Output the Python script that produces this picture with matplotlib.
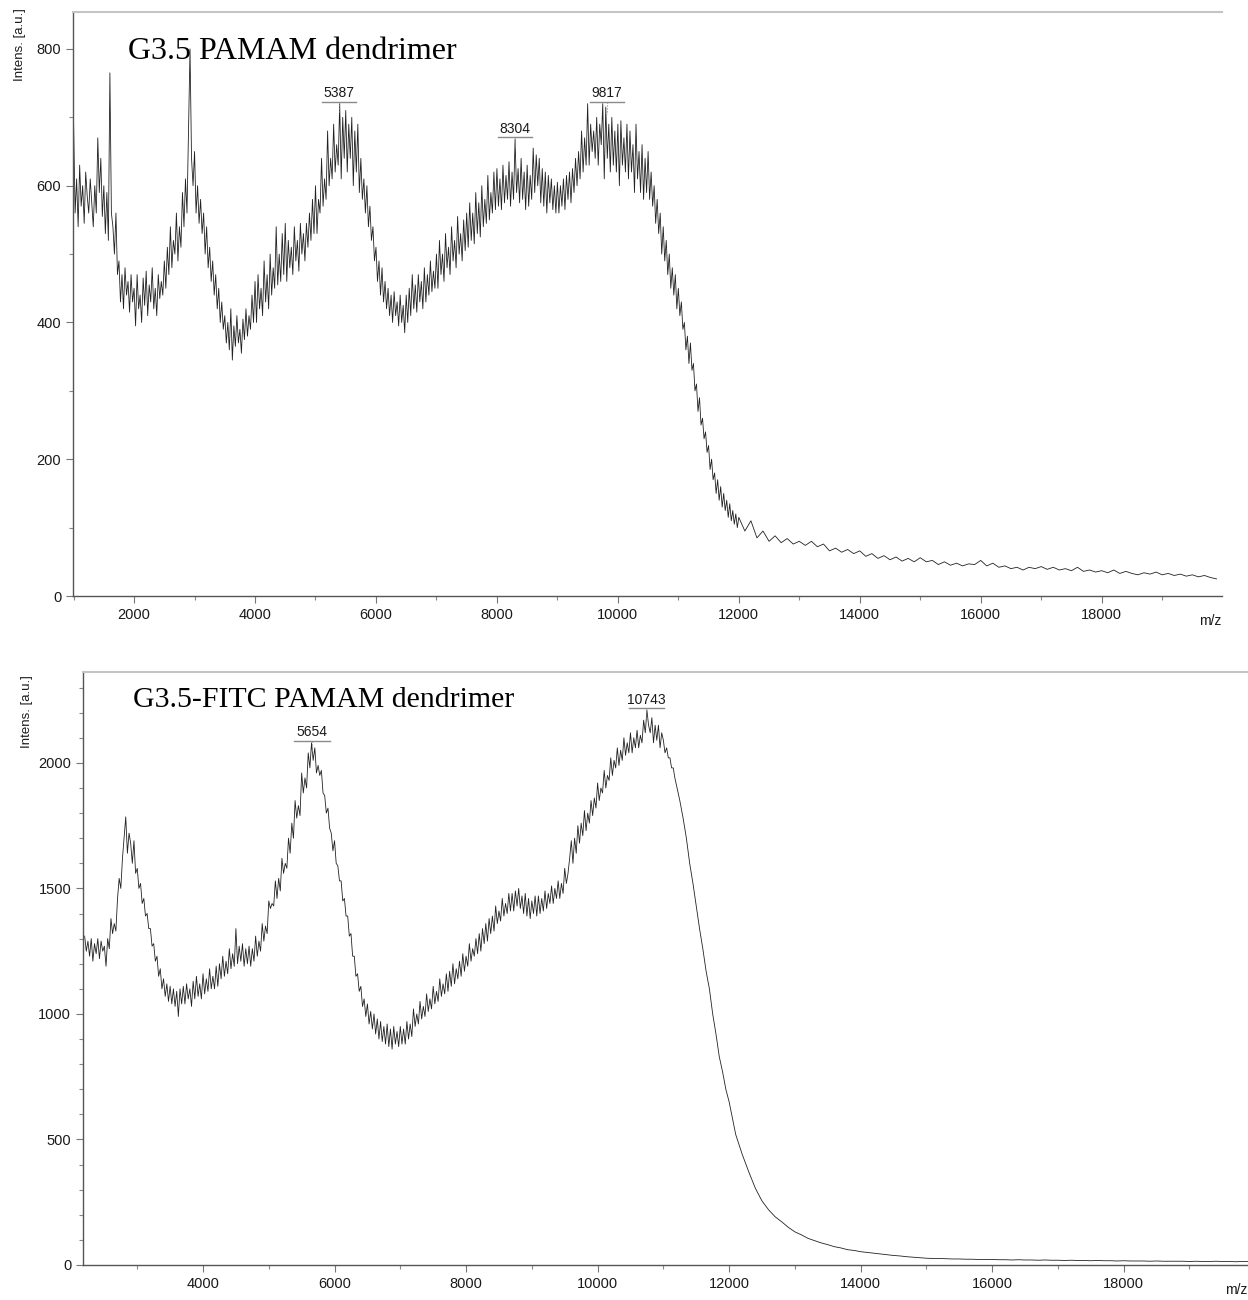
import matplotlib
matplotlib.use('Agg')
import matplotlib.pyplot as plt
from matplotlib.ticker import MultipleLocator

plt.rcParams['font.family'] = ['Liberation Sans', 'DejaVu Sans']

# ---- G3.5 PAMAM (top spectrum) ----
top_mz = list(range(1000, 12001, 25)) + list(range(12100, 19901, 100))
top_int = [
    690, 560, 610, 540, 630, 570, 600, 545, 620, 585, 560, 610, 575, 540, 600, 560, 670, 590, 640, 555,
    600, 530, 590, 520, 765, 560, 540, 500, 560, 470, 490, 430, 470, 420, 480, 440, 460, 415, 470, 430,
    450, 395, 470, 420, 440, 400, 465, 425, 475, 410, 455, 430, 480, 420, 450, 410, 470, 435, 460, 440,
    490, 450, 510, 470, 540, 480, 520, 500, 560, 490, 540, 510, 590, 540, 610, 560, 680, 800, 640, 600,
    650, 560, 600, 545, 580, 530, 560, 500, 540, 480, 510, 460, 490, 440, 470, 420, 450, 400, 430, 390,
    410, 370, 400, 360, 420, 345, 395, 365, 410, 370, 390, 355, 405, 375, 420, 380, 410, 390, 440, 400,
    460, 400, 470, 420, 450, 410, 490, 430, 470, 420, 500, 440, 480, 450, 540, 455, 500, 460, 530, 470,
    545, 460, 520, 480, 510, 470, 540, 490, 520, 475, 545, 500, 530, 490, 545, 510, 560, 520, 580, 530,
    600, 530, 580, 560, 640, 570, 610, 580, 680, 600, 640, 610, 690, 620, 660, 630, 720, 610, 700, 640,
    710, 620, 690, 640, 700, 600, 680, 620, 690, 590, 640, 580, 610, 560, 600, 540, 570, 520, 540, 490,
    510, 460, 490, 440, 480, 430, 460, 420, 450, 410, 440, 400, 445, 410, 430, 395, 440, 400, 425, 385,
    440, 400, 450, 410, 470, 420, 455, 415, 470, 430, 460, 420, 480, 430, 470, 440, 490, 445, 475, 450,
    500, 450, 520, 470, 500, 460, 530, 480, 510, 470, 540, 490, 520, 480, 555, 500, 530, 490, 550, 505,
    560, 510, 575, 520, 560, 515, 590, 530, 575, 525, 600, 540, 580, 545, 615, 550, 590, 560, 620, 565,
    625, 570, 610, 565, 630, 575, 615, 580, 635, 570, 620, 580, 668, 590, 625, 575, 640, 580, 620, 565,
    630, 570, 615, 580, 655, 590, 645, 600, 640, 575, 625, 570, 620, 560, 615, 575, 610, 565, 600, 560,
    605, 560, 600, 570, 610, 565, 615, 580, 620, 575, 625, 590, 640, 600, 650, 610, 680, 620, 670, 630,
    720, 630, 690, 650, 680, 640, 700, 630, 690, 660, 720, 610, 715, 640, 690, 620, 700, 630, 680, 620,
    690, 600, 695, 630, 670, 620, 690, 610, 680, 620, 660, 590, 690, 610, 650, 590, 660, 580, 640, 590,
    650, 580, 620, 570, 600, 545, 580, 530, 560, 500, 540, 490, 520, 470, 500, 450, 480, 440, 470, 420,
    450, 410, 430, 390, 400, 360, 380, 340, 370, 330, 340, 300, 310, 270, 290, 250, 260, 230, 240, 210,
    220, 185, 200, 170, 180, 150, 170, 140, 160, 130, 150, 125, 140, 115, 135, 110, 125, 105, 120, 100,
    115,
    95, 110, 85, 95, 80, 88, 78, 84, 76, 80,
    74, 80, 72, 76, 66, 70, 64, 68, 62, 66,
    58, 62, 55, 59, 53, 57, 51, 55, 50, 56,
    50, 52, 46, 50, 45, 48, 44, 47, 46, 52,
    44, 48, 42, 44, 40, 42, 38, 42, 40, 43,
    39, 42, 38, 40, 37, 42, 36, 38, 35, 37,
    34, 38, 33, 36, 33, 31, 34, 32, 35, 31,
    33, 30, 32, 29, 31, 28, 30, 27, 25,
]
top_peaks = [5387, 8304, 9817]
top_peak_int = [720, 668, 720]

# ---- G3.5-FITC PAMAM (bottom spectrum) ----
bot_mz = (list(range(2200, 11201, 25)) + list(range(11250, 12001, 50))
          + list(range(12100, 19901, 100)))
bot_int = [
    1310, 1250, 1290, 1230, 1300, 1210, 1280, 1240, 1300, 1220, 1290, 1250, 1270, 1190, 1300, 1260, 1380, 1320, 1360, 1330,
    1460, 1540, 1500, 1620, 1700, 1785, 1640, 1720, 1680, 1600, 1690, 1560, 1580, 1500, 1520, 1440, 1460, 1390, 1400, 1340,
    1340, 1270, 1280, 1210, 1230, 1150, 1180, 1100, 1140, 1070, 1120, 1050, 1110, 1040, 1100, 1030, 1090, 990, 1100, 1040,
    1110, 1040, 1120, 1060, 1100, 1030, 1130, 1060, 1150, 1070, 1120, 1060, 1160, 1080, 1140, 1090, 1180, 1100, 1150, 1100,
    1190, 1110, 1200, 1140, 1230, 1150, 1210, 1160, 1260, 1180, 1240, 1190, 1340, 1200, 1270, 1210, 1280, 1190, 1260, 1200,
    1270, 1190, 1260, 1210, 1310, 1230, 1290, 1250, 1360, 1290, 1350, 1320, 1450, 1420, 1440, 1430, 1530, 1460, 1540, 1490,
    1620, 1560, 1600, 1580, 1700, 1640, 1760, 1700, 1850, 1780, 1830, 1790, 1960, 1880, 1940, 1900, 2040, 1980, 2080, 2010,
    2060, 1960, 1990, 1950, 1970, 1880, 1870, 1800, 1820, 1740, 1720, 1650, 1690, 1600, 1590, 1530, 1530, 1450, 1460, 1390,
    1390, 1310, 1320, 1230, 1230, 1150, 1160, 1090, 1110, 1030, 1060, 990, 1040, 960, 1010, 940, 1000, 920, 980, 900,
    970, 890, 950, 880, 960, 870, 940, 860, 950, 880, 930, 870, 950, 880, 940, 880, 970, 900, 960, 910,
    1020, 950, 1000, 960, 1050, 980, 1030, 990, 1080, 1010, 1060, 1020, 1110, 1040, 1090, 1050, 1140, 1070, 1120, 1080,
    1160, 1090, 1170, 1110, 1200, 1120, 1180, 1140, 1210, 1150, 1240, 1170, 1230, 1190, 1280, 1210, 1260, 1230, 1300, 1240,
    1320, 1250, 1340, 1280, 1360, 1290, 1380, 1320, 1390, 1330, 1430, 1360, 1410, 1370, 1460, 1390, 1440, 1400, 1480, 1410,
    1480, 1410, 1490, 1430, 1500, 1420, 1470, 1400, 1480, 1390, 1460, 1380, 1450, 1400, 1470, 1390, 1470, 1400, 1460, 1410,
    1490, 1420, 1480, 1440, 1510, 1440, 1500, 1460, 1530, 1460, 1520, 1480, 1580, 1520, 1560, 1620, 1690, 1600, 1700, 1640,
    1750, 1680, 1760, 1710, 1810, 1730, 1800, 1760, 1850, 1790, 1860, 1820, 1920, 1850, 1900, 1880, 1970, 1900, 1950, 1930,
    2020, 1950, 2010, 1980, 2060, 1990, 2050, 2010, 2100, 2030, 2080, 2040, 2120, 2040, 2100, 2060, 2130, 2060, 2110, 2080,
    2170, 2120, 2210, 2150, 2120, 2180, 2080, 2150, 2090, 2150, 2060, 2120, 2090, 2040, 2060, 2020, 2020, 1980, 1980, 1940,
    1910,
    1850, 1780, 1700, 1600, 1520, 1430, 1340, 1260, 1170, 1100, 1000, 920, 830, 770, 700, 650,
    520, 440, 370, 305, 255, 220, 192, 172, 150, 132,
    120, 106, 97, 88, 81, 73, 68, 61, 58, 53,
    50, 47, 44, 41, 38, 36, 33, 31, 29, 27,
    26, 26, 25, 24, 24, 23, 23, 22, 22, 22,
    21, 21, 20, 21, 20, 20, 19, 20, 19, 19,
    18, 19, 18, 18, 17, 18, 17, 17, 16, 17,
    16, 16, 16, 15, 16, 15, 15, 15, 15, 14,
    15, 14, 14, 15, 14, 14, 13, 14, 14,
]
bot_peaks = [5654, 10743]
bot_peak_int = [2080, 2210]


def draw_panel(ax, mz, inten, xlim, ylim, ymajor, title, title_xy, title_size,
               peaks, peak_int, ul_half, tick_h):
    ax.plot(mz, inten, color='#222222', lw=0.6)
    ax.set_xlim(*xlim)
    ax.set_ylim(*ylim)

    ax.xaxis.set_major_locator(MultipleLocator(2000))
    ax.xaxis.set_minor_locator(MultipleLocator(1000))
    ax.yaxis.set_major_locator(MultipleLocator(ymajor))
    ax.yaxis.set_minor_locator(MultipleLocator(100))
    ax.tick_params(which='major', direction='out', length=5, width=0.8,
                   color='#777777', labelsize=10.5, labelcolor='#1a1a1a')
    ax.tick_params(which='minor', direction='out', length=3, width=0.8,
                   color='#888888')

    ax.spines['right'].set_visible(False)
    ax.spines['top'].set_color('#c4c4c4')
    ax.spines['top'].set_linewidth(1.5)
    for s in ['left', 'bottom']:
        ax.spines[s].set_color('#555555')
        ax.spines[s].set_linewidth(1.0)

    ax.text(title_xy[0], title_xy[1], title, transform=ax.transAxes,
            family='Liberation Serif', fontsize=title_size, color='black',
            ha='left', va='baseline')

    # peak labels as in flexAnalysis
    for p, h in zip(peaks, peak_int):
        ax.plot([p - ul_half, p + ul_half], [h + tick_h * 0.2, h + tick_h * 0.2],
                color='#8a8a8a', lw=1.0)
        ax.plot([p, p], [h + tick_h * 0.2, h - tick_h], color='#8a8a8a',
                lw=0.8, ls=':')
        ax.annotate(str(p), xy=(p, h + tick_h * 0.2), xytext=(0, 1),
                    textcoords='offset points', ha='center', va='bottom',
                    fontsize=10, color='#1a1a1a')


fig = plt.figure(figsize=(12.48, 13.0), dpi=100)

ax1 = fig.add_axes([73 / 1248, 1 - 596 / 1300, (1222 - 73) / 1248, (596 - 12) / 1300])
draw_panel(ax1, top_mz, top_int, (990, 19990), (0, 854), 200,
           'G3.5 PAMAM dendrimer', (0.048, 0.920), 23,
           top_peaks, top_peak_int, 280, 15)

ax2 = fig.add_axes([83 / 1248, 1 - 1265 / 1300, (1248 - 83) / 1248, (1265 - 672) / 1300])
draw_panel(ax2, bot_mz, bot_int, (2175, 19890), (0, 2362), 500,
           'G3.5-FITC PAMAM dendrimer', (0.043, 0.941), 21.5,
           bot_peaks, bot_peak_int, 270, 40)

# axis captions like the instrument software
fig.text(20 / 1248, 1 - 45 / 1300, 'Intens. [a.u.]', rotation=90, ha='center',
         va='center', fontsize=9.5, color='#1a1a1a')
fig.text(27 / 1248, 1 - 712 / 1300, 'Intens. [a.u.]', rotation=90, ha='center',
         va='center', fontsize=9.5, color='#1a1a1a')
fig.text(1221 / 1248, 1 - 621 / 1300, 'm/z', ha='right', va='center',
         fontsize=10, color='#1a1a1a')
fig.text(1247 / 1248, 1 - 1290 / 1300, 'm/z', ha='right', va='center',
         fontsize=10, color='#1a1a1a')

fig.savefig('out.png', dpi=100)
